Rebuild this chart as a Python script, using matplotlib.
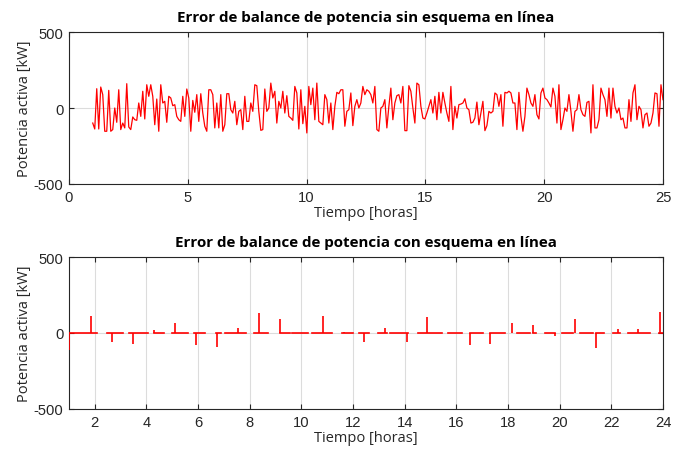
import numpy as np
import matplotlib
matplotlib.use("Agg")
import matplotlib.pyplot as plt

# Error de balance sin esquema en línea (kW), muestras cada ~5 min desde la hora 1
p_sin = [
    -99, -138, 127, -138, 138, 88, -153, -153, 116, -153, -142, 0,
    -94, 120, -142, -99, -131, 160, -125, -142, -59, -77, -81, 33,
    -55, 110, -72, 153, 77, 153, 77, -110, 59, -153, 153, 33,
    44, -94, 77,
    66, 15, 22, -55, -77, -88, 77, -55, 125, 66, -153, 50,
    -28, 88, -88, 94, -33, -120, -153, 120, 120, 88, -131, 33,
    -131, 88, -153, -110, 94, 94, -11, -33, 44, -110, -22, -11,
    -142, 77, -88, -88, 33, -22, 153, 147, -22, -147,
    -142, 125, -22, 0, 164, 66, 110, -99, 44, 0, 110, -33,
    81, -55, -66, -81, 142, 99, -138, 120, -103, 11, -164, 142,
    22, 131, -77, 164, -88, -99, -110, 88, 55, -99, 33, -142,
    11, 103, 94, 120, 120, -120, -22, -11, 99, -116, 11, 55,
    0, 33, 142, 88, 120, 110, 88, 33, 142, -142, -153, 0,
    11, 55, -131, 11, 131, -77, 33, 81, 88, 33, 142, -149,
    -149, 147, 110, 0, -99, 164, 153, 11, -66, -72, -33, 11,
    55, -33, 77, -77, 103, -33, 103, 33, -33, -88, 142, -142, 11,
    -66, 22, 26, 33, 61, 0, -11, -99, -94, -66, 39, -110,
    -33, 44, -149, -116, -22, -33, -22, 99, 88, 11, 88, -120,
    103, 99, 110, 99, 33, 33, -142, 103, -55, -153, -55, 131,
    88, 33, 11, 88, -44, -72, 99, 131, 66, 55, 33, 7,
    131, 77, -99, 153, -142, -77, 0, -22, 88, -22, -153, -22,
    -11, 88, -11, -44, -55, 37, 44, -164, 153, -131, -131, -77,
    131, 88, 55, -55, 131, -66, 131, 11, -33, 0, -77, -66,
    -131, -131, 55, -88, 99, 153, -77, 11, -11, -131, -44, -33,
    -120, -99, -33, 99, 94, -120, 153, 55,
]
hours_sin = np.linspace(1, 25, len(p_sin))

# Con esquema en línea: tramos en cero y picos puntuales
seg_ini = [1.0, 2.46, 3.33, 4.28, 4.98, 5.85, 6.70, 7.04, 8.18, 9.17, 9.62,
           10.40, 11.58, 12.22, 12.96, 13.43, 14.52, 15.68, 16.52, 17.32,
           18.33, 18.95, 19.43, 20.10, 20.78, 21.40, 22.07, 22.65, 23.85]
seg_fin = [2.10, 3.10, 4.05, 4.66, 5.60, 6.27, 6.88, 7.85, 8.70, 9.55, 10.26,
           11.20, 12.00, 12.62, 13.31, 14.12, 15.43, 16.20, 17.04, 17.88,
           18.85, 19.10, 19.80, 20.52, 21.30, 21.70, 22.33, 23.49, 24.0]
pico_t = [1.0, 1.86, 2.65, 3.48, 4.28, 5.10, 5.90, 6.72, 7.55, 8.37, 9.17,
          10.83, 11.63, 12.42, 13.25, 14.07, 14.88, 16.52, 17.32, 18.15,
          18.95, 19.80, 20.59, 21.40, 22.24, 23.04, 23.87]
pico_v = [-110, 115, -60, -72, 22, 68, -79, -95, 35, 130, 90,
          115, 8, -61, 35, -56, 105, -78, -72, 66,
          53, -18, 90, -100, 26, 26, 140]

dark = '#262626'
plt.rcParams['font.family'] = ['Liberation Sans', 'DejaVu Sans']
plt.rcParams['axes.unicode_minus'] = False
plt.rcParams['axes.edgecolor'] = dark
plt.rcParams['xtick.color'] = dark
plt.rcParams['ytick.color'] = dark

fig = plt.figure(figsize=(6.73, 4.56), dpi=100)
ax1 = fig.add_axes([0.1025, 0.5943, 0.8826, 0.3333])
ax2 = fig.add_axes([0.1025, 0.1009, 0.8826, 0.3333])

ax1.plot(hours_sin, p_sin, color='red', lw=0.9, zorder=3)
ax1.set_xlim(0, 25)
ax1.set_xticks([0, 5, 10, 15, 20, 25])

for a, b in zip(seg_ini, seg_fin):
    ax2.plot([a, b], [0, 0], color='red', lw=1.2, zorder=3)
ax2.vlines(pico_t, 0, pico_v, color='red', lw=1.2, zorder=3)
ax2.set_xlim(1, 24)
ax2.set_xticks(range(2, 25, 2))

titles = ['Error de balance de potencia sin esquema en línea',
          'Error de balance de potencia con esquema en línea']
for ax, title in zip([ax1, ax2], titles):
    ax.set_ylim(-500, 500)
    ax.set_yticks([-500, 0, 500])
    ax.grid(True, color='#dcdcdc', lw=0.8, zorder=0)
    ax.set_axisbelow(True)
    ax.tick_params(direction='in', length=3.5, width=0.8, top=True, right=True,
                   labelsize=10.6, pad=4)
    for s in ax.spines.values():
        s.set_linewidth(0.8)
    ax.set_title(title, fontfamily='Open Sans', fontweight='bold', fontsize=10.9,
                 color='black', pad=8)
    ax.set_xlabel('Tiempo [horas]', fontfamily='Open Sans', fontsize=10.5,
                  color=dark, labelpad=1)
    ax.set_ylabel('Potencia activa [kW]', fontfamily='Open Sans', fontsize=10.5,
                  color=dark, labelpad=1)

fig.savefig('out.png', dpi=100)
